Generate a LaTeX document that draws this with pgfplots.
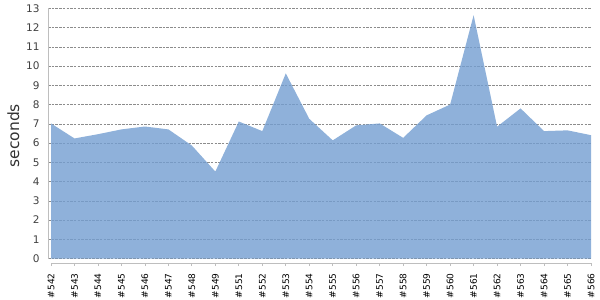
\documentclass[border=0pt]{standalone}
\usepackage{fontspec}
\setmainfont{DejaVu Sans}
\usepackage{pgfplots}
\pgfplotsset{compat=1.18}
\definecolor{areafill}{RGB}{115,158,209}
\definecolor{gridgray}{RGB}{140,140,140}
\definecolor{axgray}{RGB}{190,190,190}
\begin{document}
\begin{tikzpicture}
\begin{axis}[
  scale only axis,
  width=543pt, height=254.7pt,
  xmin=-0.128, xmax=23,
  ymin=-0.23, ymax=13,
  axis x line*=bottom,
  axis y line*=left,
  x axis line style={draw=axgray, shorten <=3pt},
  y axis line style={draw=axgray, shorten <=4.5pt},
  xtick={0,...,23},
  xticklabels={\#542,\#543,\#544,\#545,\#546,\#547,\#548,\#549,\#551,\#552,\#553,\#554,\#555,\#556,\#557,\#558,\#559,\#560,\#561,\#562,\#563,\#564,\#565,\#566},
  xticklabel style={rotate=90, anchor=east, font=\fontsize{9}{9}\selectfont, text=black},
  xticklabel shift=4pt,
  xtick style={draw=axgray, line width=0.8pt},
  tick align=outside,
  major tick length=3pt,
  ytick={0,...,13},
  ytick style={draw=none},
  yticklabel style={font=\fontsize{10.5}{11}\selectfont, text=black!75, xshift=-2pt},
  ymajorgrids,
  grid style={gridgray, dash pattern=on 2.5pt off 1.2pt, line width=0.45pt},
  ylabel={seconds},
  ylabel style={font=\fontsize{15.5}{16}\selectfont, text=black!80},
  /pgf/number format/assume math mode=true,
  clip=false,
]
\addplot[fill=areafill, fill opacity=0.8, draw=none] coordinates {
  (0,0)
  (0,7.02) (1,6.24) (2,6.46) (3,6.71) (4,6.86) (5,6.71) (6,5.87) (7,4.52)
  (8,7.12) (9,6.62) (10,9.62) (11,7.26) (12,6.14) (13,6.92) (14,7.02)
  (15,6.27) (16,7.44) (17,8.0) (18,12.64) (19,6.85) (20,7.8) (21,6.62)
  (22,6.66) (23,6.41)
  (23,0)
} -- cycle;
\end{axis}
\pgfresetboundingbox
\path ([shift={(-48pt,-37pt)}]current axis.south west) rectangle ++(600pt,300pt);
\end{tikzpicture}
\end{document}
